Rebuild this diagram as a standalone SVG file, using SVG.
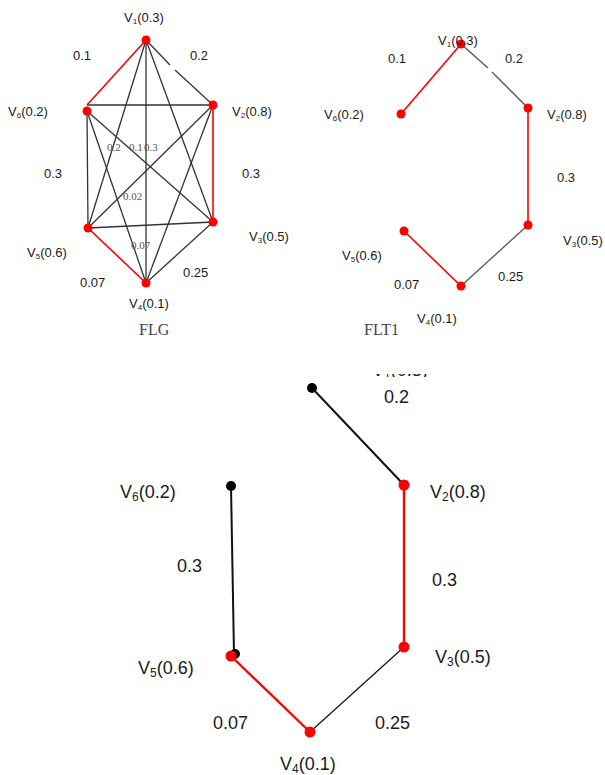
<svg xmlns="http://www.w3.org/2000/svg" width="605" height="775" viewBox="0 0 605 775">
  <style>
    .lbl { font-family: "Liberation Sans", "Open Sans", Arial, sans-serif; fill: #1a1a1a; }
    .s { font-size: 13px; }
    .b { font-size: 18px; }
    .tiny { font-family: "Liberation Serif", "Times New Roman", serif; font-size: 11px; fill: #555; }
    .cap { font-family: "Liberation Serif", "Times New Roman", serif; font-size: 16px; fill: #444; }
    .k { stroke: #333; stroke-width: 1.3; fill: none; }
    .g { stroke: #555; stroke-width: 1.3; fill: none; }
    .r { stroke: #f00; stroke-width: 1.6; fill: none; }
    .kb { stroke: #111; stroke-width: 2; fill: none; }
    .kt { stroke: #111; stroke-width: 1.2; fill: none; }
    .rb { stroke: #f00; stroke-width: 2.4; fill: none; }
    .dot { fill: #f00; }
    .dotk { fill: #000; }
  </style>
  <defs>
    <clipPath id="cutTop"><rect x="0" y="374" width="605" height="3"/></clipPath>
  </defs>
  <rect width="605" height="775" fill="#fff"/>

  <!-- FLG: complete fuzzy graph -->
  <g id="flg-edges">
    <line class="k" x1="146" y1="40" x2="170" y2="65"/>
    <line class="k" x1="175" y1="70" x2="213" y2="105"/>
    <line class="k" x1="146" y1="40" x2="213" y2="222"/>
    <line class="k" x1="146" y1="40" x2="146" y2="283"/>
    <line class="k" x1="146" y1="40" x2="88" y2="228"/>
    <line class="k" x1="87" y1="105" x2="213" y2="105"/>
    <line class="k" x1="87" y1="111" x2="213" y2="222"/>
    <line class="k" x1="87" y1="111" x2="146" y2="283"/>
    <line class="k" x1="87" y1="111" x2="88" y2="228"/>
    <line class="k" x1="213" y1="105" x2="146" y2="283"/>
    <line class="k" x1="213" y1="105" x2="88" y2="228"/>
    <line class="k" x1="88" y1="228" x2="213" y2="222"/>
    <line class="k" x1="213" y1="222" x2="146" y2="283"/>
    <line class="r" x1="146" y1="40" x2="87" y2="105"/>
    <line class="r" x1="213" y1="105" x2="213" y2="222"/>
    <line class="r" x1="88" y1="228" x2="146" y2="283"/>
  </g>
  <g id="flg-v1"><circle class="dot" cx="146" cy="40" r="4.5"/><text class="lbl s" x="124" y="22">V<tspan font-size="8" dy="2">1</tspan><tspan dy="-2">(0.3)</tspan></text></g>
  <g id="flg-v2"><circle class="dot" cx="213" cy="105" r="4.5"/><text class="lbl s" x="232" y="116">V<tspan font-size="8" dy="2">2</tspan><tspan dy="-2">(0.8)</tspan></text></g>
  <g id="flg-v3"><circle class="dot" cx="213" cy="222" r="4.5"/><text class="lbl s" x="249" y="241">V<tspan font-size="8" dy="2">3</tspan><tspan dy="-2">(0.5)</tspan></text></g>
  <g id="flg-v4"><circle class="dot" cx="146" cy="283" r="4.5"/><text class="lbl s" x="129" y="308">V<tspan font-size="8" dy="2">4</tspan><tspan dy="-2">(0.1)</tspan></text></g>
  <g id="flg-v5"><circle class="dot" cx="88" cy="228" r="4.5"/><text class="lbl s" x="27" y="257">V<tspan font-size="8" dy="2">5</tspan><tspan dy="-2">(0.6)</tspan></text></g>
  <g id="flg-v6"><circle class="dot" cx="87" cy="111" r="4.5"/><text class="lbl s" x="8" y="116">V<tspan font-size="8" dy="2">6</tspan><tspan dy="-2">(0.2)</tspan></text></g>
  <g id="flg-weights">
    <text class="lbl s" x="73" y="60">0.1</text>
    <text class="lbl s" x="190" y="60">0.2</text>
    <text class="lbl s" x="44" y="178">0.3</text>
    <text class="lbl s" x="242" y="178">0.3</text>
    <text class="lbl s" x="80" y="287">0.07</text>
    <text class="lbl s" x="183" y="277">0.25</text>
    <text class="tiny" x="107" y="151">0.2</text>
    <text class="tiny" x="129" y="151">0.1</text>
    <text class="tiny" x="144" y="151">0.3</text>
    <text class="tiny" x="123" y="200">0.02</text>
    <text class="tiny" x="131" y="249">0.07</text>
  </g>
  <text class="cap" x="139" y="335">FLG</text>

  <!-- FLT1: fuzzy tree -->
  <g id="flt1-edges">
    <line class="r" x1="461" y1="44" x2="401" y2="114"/>
    <line class="g" x1="461" y1="44" x2="488" y2="68"/>
    <line class="g" x1="492" y1="72" x2="528" y2="108"/>
    <line class="r" x1="528" y1="108" x2="528" y2="225"/>
    <line class="g" x1="528" y1="225" x2="461" y2="286"/>
    <line class="r" x1="404" y1="231" x2="461" y2="286"/>
  </g>
  <g id="flt1-v1"><circle class="dot" cx="461" cy="44" r="4.5"/><text class="lbl s" x="438" y="45">V<tspan font-size="8" dy="2">1</tspan><tspan dy="-2">(0.3)</tspan></text></g>
  <g id="flt1-v2"><circle class="dot" cx="528" cy="108" r="4.5"/><text class="lbl s" x="547" y="119">V<tspan font-size="8" dy="2">2</tspan><tspan dy="-2">(0.8)</tspan></text></g>
  <g id="flt1-v3"><circle class="dot" cx="528" cy="225" r="4.5"/><text class="lbl s" x="563" y="245">V<tspan font-size="8" dy="2">3</tspan><tspan dy="-2">(0.5)</tspan></text></g>
  <g id="flt1-v4"><circle class="dot" cx="461" cy="286" r="4.5"/><text class="lbl s" x="417" y="323">V<tspan font-size="8" dy="2">4</tspan><tspan dy="-2">(0.1)</tspan></text></g>
  <g id="flt1-v5"><circle class="dot" cx="404" cy="231" r="4.5"/><text class="lbl s" x="342" y="260">V<tspan font-size="8" dy="2">5</tspan><tspan dy="-2">(0.6)</tspan></text></g>
  <g id="flt1-v6"><circle class="dot" cx="401" cy="114" r="4.5"/><text class="lbl s" x="324" y="119">V<tspan font-size="8" dy="2">6</tspan><tspan dy="-2">(0.2)</tspan></text></g>
  <g id="flt1-weights">
    <text class="lbl s" x="388" y="63">0.1</text>
    <text class="lbl s" x="505" y="63">0.2</text>
    <text class="lbl s" x="557" y="182">0.3</text>
    <text class="lbl s" x="394" y="289">0.07</text>
    <text class="lbl s" x="498" y="281">0.25</text>
  </g>
  <text class="cap" x="364" y="335">FLT1</text>

  <!-- Enlarged tree -->
  <g id="tree-edges">
    <line class="kb" x1="312" y1="388" x2="404" y2="485"/>
    <line class="kb" x1="231" y1="486" x2="234" y2="654"/>
    <line class="rb" x1="404" y1="485" x2="404" y2="647"/>
    <line class="kt" x1="404" y1="647" x2="310" y2="732"/>
    <line class="rb" x1="231" y1="656" x2="310" y2="732"/>
  </g>
  <g id="tree-v1"><circle class="dotk" cx="312" cy="388" r="5"/><text class="lbl b" x="372" y="376" clip-path="url(#cutTop)">V<tspan font-size="12" dy="2">1</tspan><tspan dy="-2">(0.3)</tspan></text></g>
  <g id="tree-v2"><circle class="dot" cx="404" cy="485" r="5.5"/><text class="lbl b" x="430" y="498">V<tspan font-size="12" dy="3">2</tspan><tspan dy="-3">(0.8)</tspan></text></g>
  <g id="tree-v3"><circle class="dot" cx="404" cy="647" r="5.5"/><text class="lbl b" x="435" y="663">V<tspan font-size="12" dy="3">3</tspan><tspan dy="-3">(0.5)</tspan></text></g>
  <g id="tree-v4"><circle class="dot" cx="310" cy="732" r="5.5"/><text class="lbl b" x="280" y="770">V<tspan font-size="12" dy="3">4</tspan><tspan dy="-3">(0.1)</tspan></text></g>
  <g id="tree-v5"><circle class="dotk" cx="235" cy="654" r="5"/><circle class="dot" cx="231" cy="656" r="5.5"/><text class="lbl b" x="138" y="674">V<tspan font-size="12" dy="3">5</tspan><tspan dy="-3">(0.6)</tspan></text></g>
  <g id="tree-v6"><circle class="dotk" cx="231" cy="486" r="5"/><text class="lbl b" x="120" y="498">V<tspan font-size="12" dy="3">6</tspan><tspan dy="-3">(0.2)</tspan></text></g>
  <g id="tree-weights">
    <text class="lbl b" x="384" y="403">0.2</text>
    <text class="lbl b" x="177" y="572">0.3</text>
    <text class="lbl b" x="432" y="586">0.3</text>
    <text class="lbl b" x="213" y="729">0.07</text>
    <text class="lbl b" x="375" y="729">0.25</text>
  </g>
</svg>
